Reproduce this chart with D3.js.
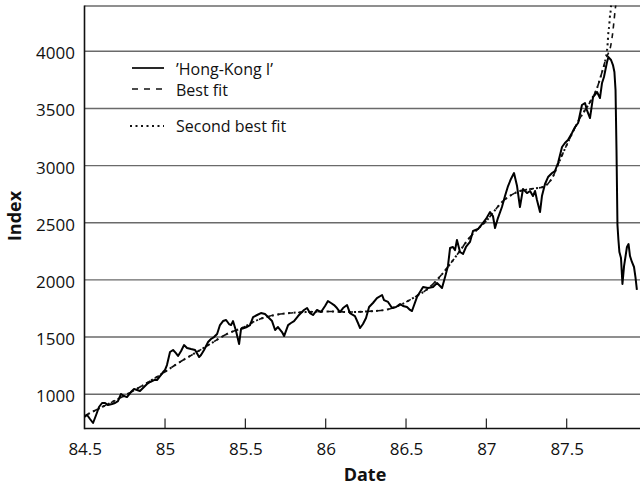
<!DOCTYPE html>
<html>
<head>
<meta charset="utf-8">
<script src="https://cdn.jsdelivr.net/npm/d3@7/dist/d3.min.js"></script>
<style>
  html, body { margin: 0; padding: 0; background: #fff; }
  svg { display: block; }
  text { font-family: "Open Sans", "Noto Sans", sans-serif; fill: #111; }
</style>
</head>
<body>
<svg id="chart" width="640" height="487"></svg>
<script>
// ---- data ----
const seriesYears = [84.496,84.515,84.533,84.552,84.571,84.589,84.608,84.627,84.645,84.670,84.689,84.707,84.726,84.745,84.763,84.788,84.807,84.826,84.844,84.869,84.888,84.907,84.932,84.950,84.969,84.988,85.000,85.012,85.031,85.050,85.068,85.081,85.100,85.118,85.137,85.162,85.187,85.212,85.224,85.243,85.268,85.286,85.305,85.324,85.342,85.361,85.380,85.398,85.411,85.423,85.442,85.461,85.473,85.492,85.510,85.529,85.548,85.573,85.597,85.622,85.641,85.666,85.685,85.703,85.728,85.741,85.766,85.784,85.803,85.828,85.846,85.865,85.884,85.902,85.921,85.946,85.971,85.996,86.014,86.033,86.052,86.070,86.089,86.108,86.133,86.151,86.182,86.201,86.214,86.232,86.251,86.270,86.294,86.319,86.351,86.363,86.388,86.413,86.438,86.463,86.481,86.506,86.525,86.537,86.568,86.587,86.606,86.637,86.668,86.693,86.724,86.743,86.761,86.774,86.792,86.805,86.817,86.836,86.855,86.873,86.898,86.917,86.948,86.973,86.998,87.023,87.041,87.054,87.072,87.097,87.116,87.135,87.153,87.172,87.191,87.209,87.228,87.253,87.272,87.290,87.303,87.315,87.334,87.346,87.365,87.384,87.409,87.427,87.446,87.471,87.489,87.508,87.533,87.552,87.571,87.595,87.614,87.626,87.645,87.664,87.689,87.707,87.720,87.732,87.751,87.760,87.776,87.788,87.797,87.804,87.810,87.816,87.822,87.828,87.838,87.847,87.857,87.875,87.885,87.894,87.906,87.919,87.928,87.937];
const seriesValues = [800,818,783,748,818,888,923,923,905,914,923,940,1002,984,975,1019,1045,1037,1028,1063,1089,1107,1124,1124,1159,1194,1212,1255,1369,1387,1360,1334,1378,1430,1404,1395,1387,1325,1343,1387,1457,1483,1500,1527,1605,1640,1649,1614,1605,1640,1553,1439,1570,1579,1588,1605,1675,1693,1710,1701,1675,1640,1562,1588,1544,1509,1605,1623,1640,1684,1710,1737,1754,1710,1693,1737,1719,1772,1815,1798,1780,1754,1719,1754,1780,1710,1684,1623,1579,1614,1667,1763,1798,1841,1868,1824,1807,1754,1763,1789,1772,1763,1737,1728,1850,1894,1938,1929,1938,1973,1929,2025,2122,2279,2288,2261,2349,2244,2227,2288,2332,2428,2445,2489,2533,2594,2559,2454,2541,2638,2734,2821,2883,2935,2821,2638,2795,2760,2778,2734,2778,2699,2594,2734,2839,2900,2935,2953,3023,3163,3198,3224,3285,3338,3373,3530,3548,3486,3416,3600,3644,3591,3723,3775,3906,3950,3924,3880,3819,3661,3136,2480,2349,2244,2192,1964,2121,2288,2314,2209,2157,2113,2025,1912];

const bestFitYears  = [84.496,84.595,84.720,84.844,84.969,85.093,85.187,85.280,85.386,85.492,85.548,85.653,85.778,85.884,86.008,86.151,86.257,86.382,86.463,86.543,86.649,86.730,86.817,86.898,87.004,87.104,87.191,87.272,87.352,87.409,87.458,87.520,87.583,87.645,87.689,87.720,87.738,87.757,87.769,87.786,87.794,87.802,87.807];
const bestFitValues = [809,879,967,1063,1168,1282,1360,1439,1527,1588,1632,1684,1710,1719,1724,1719,1724,1741,1780,1841,1938,2060,2218,2375,2524,2690,2769,2795,2813,2891,3049,3241,3416,3556,3679,3819,3906,3976,4017,4157,4259,4367,4423];

const secondFitYears  = [84.496,84.595,84.720,84.844,84.969,85.093,85.187,85.280,85.386,85.492,85.548,85.653,85.778,85.884,86.008,86.151,86.257,86.382,86.463,86.543,86.649,86.730,86.817,86.898,87.004,87.104,87.191,87.272,87.352,87.409,87.458,87.520,87.583,87.645,87.689,87.720,87.738,87.755,87.759,87.765,87.769,87.774,87.777];
const secondFitValues = [809,879,967,1063,1168,1282,1360,1439,1527,1588,1632,1684,1710,1719,1724,1719,1724,1741,1780,1841,1938,2060,2218,2375,2524,2690,2769,2795,2813,2891,3049,3241,3416,3556,3679,3819,3906,4070,4157,4230,4303,4361,4423];

const xTicks = [84.5, 85, 85.5, 86, 86.5, 87, 87.5];
const yTicks = [1000, 1500, 2000, 2500, 3000, 3500, 4000];
const legendLabels = ["\u2019Hong-Kong I\u2019", "Best fit", "Second best fit"];
const xTitle = "Date";
const yTitle = "Index";

// ---- drawing ----
(function () {
const svg = d3.select("#chart");
const pLeft = 84.5, pRight = 640, pTop = 5.6, pBottom = 428.5;

const x = d3.scaleLinear().domain([84.5, 87.96]).range([84.7, 640.6]);
const y = d3.scaleLinear().domain([700, 4400]).range([pBottom, pTop]);

svg.append("defs").append("clipPath").attr("id", "plotclip")
  .append("rect").attr("x", pLeft).attr("y", pTop).attr("width", pRight - pLeft).attr("height", pBottom - pTop);

// gridlines
svg.append("g").selectAll("line").data(yTicks).join("line")
  .attr("x1", pLeft).attr("x2", pRight)
  .attr("y1", d => y(d)).attr("y2", d => y(d))
  .attr("stroke", "#6a6a6a").attr("stroke-width", 1.4);

// top border
svg.append("line").attr("x1", pLeft).attr("x2", pRight).attr("y1", 6).attr("y2", 6)
  .attr("stroke", "#6a6a6a").attr("stroke-width", 1.6);

// y labels
svg.append("g").selectAll("text").data(yTicks).join("text")
  .attr("x", 75).attr("y", d => y(d) + 8)
  .attr("text-anchor", "end").attr("font-size", 17)
  .text(d => d);

// x axis via d3.axisBottom with inward ticks
const xAxis = d3.axisBottom(x).tickValues(xTicks).tickSize(0).tickFormat(d3.format("")).tickPadding(0);
const gx = svg.append("g").attr("transform", `translate(0,${pBottom})`).call(xAxis);
gx.select(".domain").remove();
gx.selectAll("text").attr("font-size", 17).attr("dy", null).attr("y", 26)
  .style("font-family", '"Open Sans", "Noto Sans", sans-serif').attr("fill", "#111");
svg.append("g").selectAll("line").data(xTicks.slice(1)).join("line")
  .attr("x1", d => x(d)).attr("x2", d => x(d))
  .attr("y1", pBottom).attr("y2", pBottom - 10)
  .attr("stroke", "#222").attr("stroke-width", 1.2);

// axis lines
svg.append("line").attr("x1", pLeft).attr("x2", pRight).attr("y1", pBottom).attr("y2", pBottom)
  .attr("stroke", "#111").attr("stroke-width", 1.6);
svg.append("line").attr("x1", pLeft).attr("x2", pLeft).attr("y1", 5.5).attr("y2", pBottom + 0.8)
  .attr("stroke", "#111").attr("stroke-width", 1.6);

// titles
svg.append("text").attr("x", 365).attr("y", 480.5).attr("text-anchor", "middle")
  .attr("font-size", 18).attr("font-weight", "bold").text(xTitle);
svg.append("text").attr("transform", "translate(21,216) rotate(-90)").attr("text-anchor", "middle")
  .attr("font-size", 18).attr("font-weight", "bold").text(yTitle);

// lines
const plot = svg.append("g").attr("clip-path", "url(#plotclip)");
const fitLine = d3.line().x(d => x(d[0])).y(d => y(d[1])).curve(d3.curveMonotoneX);
const dataLine = d3.line().x(d => x(d[0])).y(d => y(d[1]));

const bestFit = bestFitYears.map((v, i) => [v, bestFitValues[i]]);
const secondFit = secondFitYears.map((v, i) => [v, secondFitValues[i]]);
const series = seriesYears.map((v, i) => [v, seriesValues[i]]);

plot.append("path").datum(bestFit).attr("d", fitLine)
  .attr("fill", "none").attr("stroke", "#111").attr("stroke-width", 1.6)
  .attr("stroke-dasharray", "5,5");
plot.append("path").datum(secondFit).attr("d", fitLine)
  .attr("fill", "none").attr("stroke", "#111").attr("stroke-width", 2)
  .attr("stroke-dasharray", "2,3.5").attr("stroke-dashoffset", 1);
plot.append("path").datum(series).attr("d", dataLine)
  .attr("fill", "none").attr("stroke", "#000").attr("stroke-width", 2)
  .attr("stroke-linejoin", "round");

// legend
const legendRows = [
  { yLine: 68, yText: 75, dash: null, w: 1.8 },
  { yLine: 89, yText: 96, dash: "6,6", w: 1.4 },
  { yLine: 126, yText: 132, dash: "2,3.5", w: 2 }
];
const lg = svg.append("g");
legendRows.forEach((r, i) => {
  lg.append("line").attr("x1", i === 2 ? 130 : 132).attr("x2", 164)
    .attr("y1", r.yLine).attr("y2", r.yLine)
    .attr("stroke", "#111").attr("stroke-width", r.w)
    .attr("stroke-dasharray", r.dash);
  lg.append("text").attr("x", 176).attr("y", r.yText).attr("font-size", 16).text(legendLabels[i]);
});
})();
</script>
</body>
</html>
